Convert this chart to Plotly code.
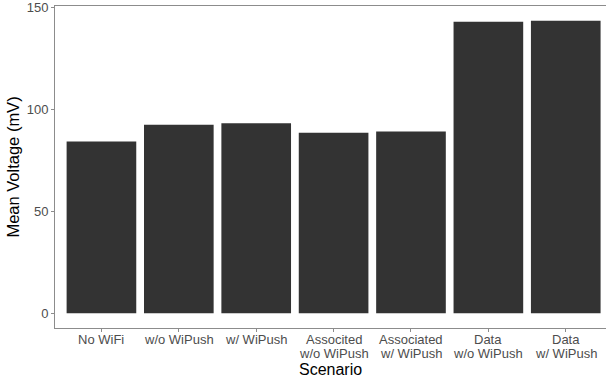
import plotly.graph_objects as go

# Mean voltage per measurement scenario (two-line category labels)
scenarios = [
    ("No WiFi", ""),
    ("w/o WiPush", ""),
    ("w/ WiPush", ""),
    ("Associted", "w/o WiPush"),
    ("Associated", "w/ WiPush"),
    ("Data", "w/o WiPush"),
    ("Data", "w/ WiPush"),
]
mean_voltage = [84.3, 92.5, 93.3, 88.6, 89.2, 143.1, 143.6]

y_ticks = [0, 50, 100, 150]

positions = list(range(len(scenarios)))

fig = go.Figure(
    go.Bar(
        x=positions,
        y=mean_voltage,
        width=0.9,
        marker=dict(color="#333333", line=dict(width=0)),
    )
)

axis_grey = "#8c8c8c"
label_grey = "#4d4d4d"
font_family = "Liberation Sans, Arial, sans-serif"

ymax = max(mean_voltage)
pad = ymax * 0.05

fig.update_layout(
    width=606,
    height=379,
    margin=dict(l=55, r=0, t=6, b=51),
    plot_bgcolor="white",
    paper_bgcolor="white",
    showlegend=False,
    font=dict(family=font_family),
)

# Category labels, one annotation per text line for tight line spacing
for pos, (first, second) in zip(positions, scenarios):
    for text, shift in ((first, -11), (second, -25)):
        if text:
            fig.add_annotation(
                x=pos, xref="x", y=0, yref="paper",
                text=text, showarrow=False,
                yanchor="middle", xanchor="center", yshift=shift,
                font=dict(size=13, color=label_grey),
            )

# x-axis title
fig.add_annotation(
    x=0.5, xref="paper", y=0, yref="paper",
    text="Scenario", showarrow=False,
    yanchor="middle", xanchor="center", yshift=-41,
    font=dict(size=16, color="black"),
)

fig.update_xaxes(
    range=[-0.6, 6.52],
    tickmode="array",
    tickvals=positions,
    showticklabels=False,
    showgrid=False,
    zeroline=False,
    showline=True,
    mirror=True,
    linecolor=axis_grey,
    linewidth=1,
    ticks="outside",
    ticklen=3,
    tickcolor=axis_grey,
)

fig.update_yaxes(
    range=[-pad, ymax + pad],
    tickmode="array",
    tickvals=y_ticks,
    showgrid=False,
    zeroline=False,
    showline=True,
    linecolor=axis_grey,
    linewidth=1,
    ticks="outside",
    ticklen=3,
    tickcolor=axis_grey,
    tickfont=dict(size=13, color=label_grey),
    title=dict(text="Mean Voltage (mV)", font=dict(size=16.5, color="black"), standoff=2),
)

fig.write_html("out.html")
